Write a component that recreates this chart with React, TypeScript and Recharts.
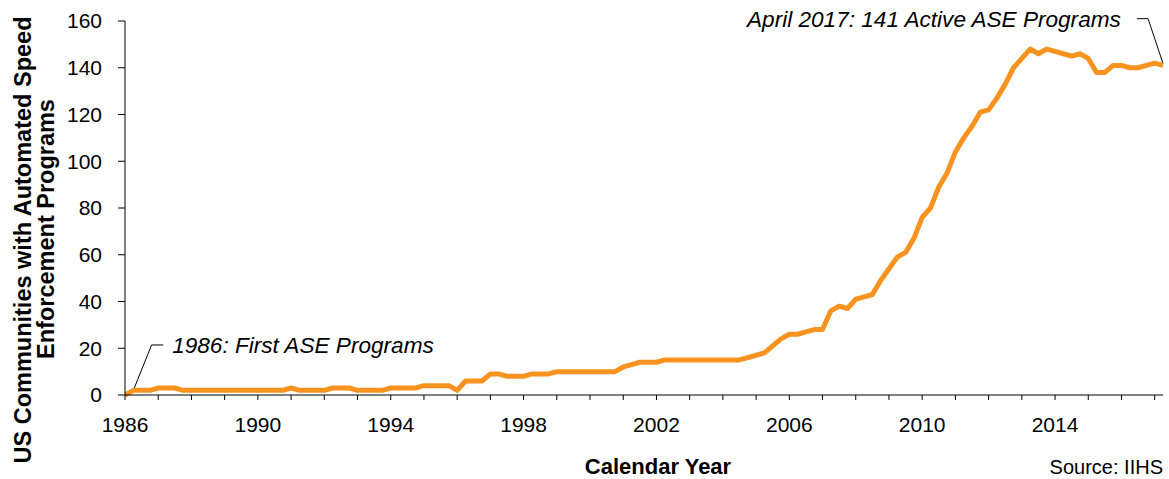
import React from 'react';
import { LineChart, Line, XAxis, YAxis, ReferenceLine, ReferenceDot } from 'recharts';

// quarterly counts, first quarter of 1986 to April 2017
const startYear = 1986;
const counts = [
  0, 2, 2, 2, 3, 3, 3, 2, 2, 2, 2, 2, 2, 2, 2, 2, 2, 2, 2, 2,
  3, 2, 2, 2, 2, 3, 3, 3, 2, 2, 2, 2, 3, 3, 3, 3, 4, 4, 4, 4,
  2, 6, 6, 6, 9, 9, 8, 8, 8, 9, 9, 9, 10, 10, 10, 10, 10, 10, 10, 10,
  12, 13, 14, 14, 14, 15, 15, 15, 15, 15, 15, 15, 15, 15, 15, 16, 17, 18, 21, 24,
  26, 26, 27, 28, 28, 36, 38, 37, 41, 42, 43, 49, 54, 59, 61, 67, 76, 80, 89, 95,
  104, 110, 115, 121, 122, 127, 133, 140, 144, 148, 146, 148, 147, 146, 145, 146, 144, 138, 138, 141,
  141, 140, 140, 141, 142, 141,
];

const yearTicks = Array.from({ length: 32 }, (_, i) => startYear + i);
const labelYears = [1986, 1990, 1994, 1998, 2002, 2006, 2010, 2014];
const yTicks = [0, 20, 40, 60, 80, 100, 120, 140, 160];

const data = counts.map((v, i) => ({ t: startYear + i / 4, count: v }));

const FONT = '"Liberation Sans", Arial, sans-serif';
const ORANGE = '#F7931E';

const noteText = (text: string, anchor: 'start' | 'end') => (p: any) => (
  <text x={p.cx} y={p.cy} dy="0.36em" textAnchor={anchor} fontFamily={FONT} fontSize={22.6} fontStyle="italic" fill="#000">
    {text}
  </text>
);

export default function App() {
  return (
    <div style={{ position: 'absolute', left: 0, top: 0, width: 1169, height: 479, background: '#fff' }}>
      <LineChart width={1169} height={479} data={data} margin={{ top: 21, right: 6, bottom: 0, left: 0 }}>
        <XAxis
          type="number"
          dataKey="t"
          domain={[1986, 2017.25]}
          ticks={yearTicks}
          interval={0}
          tickFormatter={(v) => (labelYears.includes(v) ? String(v) : '')}
          height={84}
          tickSize={5}
          tickMargin={17}
          stroke="#000"
          tick={{ fill: '#000', fontSize: 21, fontFamily: FONT }}
          allowDataOverflow
        />
        <YAxis
          domain={[0, 160]}
          ticks={yTicks}
          width={125}
          tickSize={7}
          tickMargin={16}
          stroke="#000"
          tick={{ fill: '#000', fontSize: 21, fontFamily: FONT }}
        />
        <ReferenceLine segment={[{ x: 1986.28, y: 3 }, { x: 1986.8, y: 21.4 }]} stroke="#000" strokeWidth={1} ifOverflow="visible" />
        <ReferenceLine segment={[{ x: 1986.8, y: 21.4 }, { x: 1987.15, y: 21.4 }]} stroke="#000" strokeWidth={1} ifOverflow="visible" />
        <ReferenceLine segment={[{ x: 2017.25, y: 141.8 }, { x: 2016.8, y: 161 }]} stroke="#000" strokeWidth={1} ifOverflow="visible" />
        <ReferenceLine segment={[{ x: 2016.8, y: 161 }, { x: 2016.47, y: 161 }]} stroke="#000" strokeWidth={1} ifOverflow="visible" />
        <ReferenceDot x={1987.42} y={21.4} r={0} ifOverflow="visible" shape={noteText('1986: First ASE Programs', 'start')} />
        <ReferenceDot x={2015.98} y={161} r={0} ifOverflow="visible" shape={noteText('April 2017: 141 Active ASE Programs', 'end')} />
        <Line
          type="linear"
          dataKey="count"
          stroke={ORANGE}
          strokeWidth={5}
          strokeLinejoin="round"
          dot={false}
          activeDot={false}
          isAnimationActive={false}
        />
      </LineChart>
      <svg width={1169} height={479} style={{ position: 'absolute', left: 0, top: 0, pointerEvents: 'none' }}>
        <text x={31} y={240} transform="rotate(-90 31 240)" textAnchor="middle" fontFamily={FONT} fontSize={23.5} fontWeight="bold" fill="#000">
          US Communities with Automated Speed
        </text>
        <text x={54} y={229} transform="rotate(-90 54 229)" textAnchor="middle" fontFamily={FONT} fontSize={23.5} fontWeight="bold" fill="#000">
          Enforcement Programs
        </text>
        <text x={658} y={474} textAnchor="middle" fontFamily={FONT} fontSize={22} fontWeight="bold" fill="#000">
          Calendar Year
        </text>
        <text x={1163} y={474} textAnchor="end" fontFamily={FONT} fontSize={20} fill="#000">
          Source: IIHS
        </text>
      </svg>
    </div>
  );
}
